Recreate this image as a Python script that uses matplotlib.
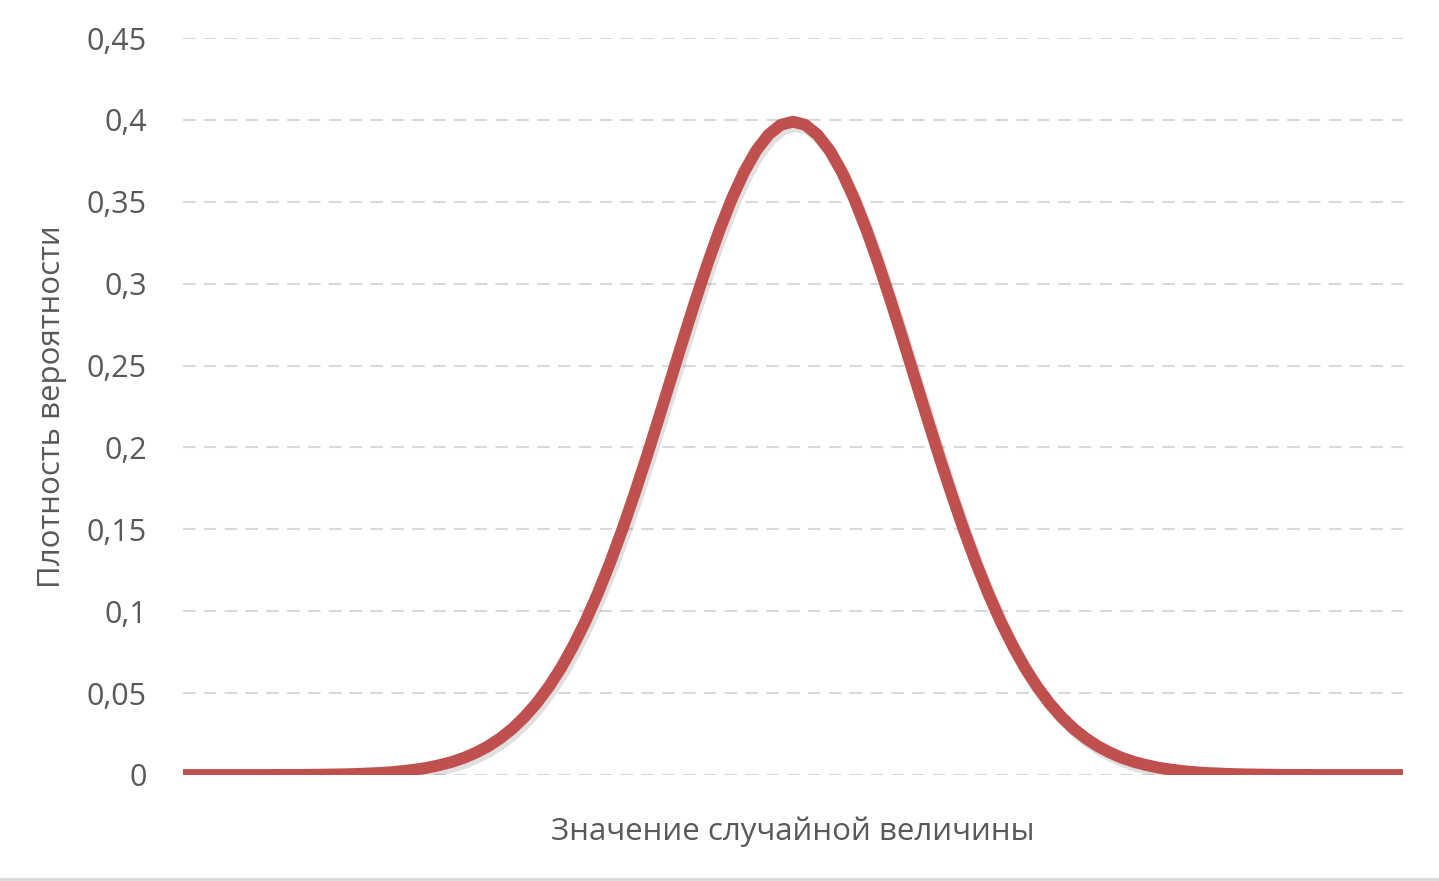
import matplotlib
matplotlib.use("Agg")
import matplotlib.pyplot as plt
import matplotlib.patheffects as pe
from matplotlib.ticker import FuncFormatter

# values (random variable value vs density), step 0.1
x_vals = [round(-5 + 0.1 * i, 1) for i in range(101)]
right_half = [0.3989, 0.3970, 0.3910, 0.3814, 0.3683, 0.3521, 0.3332, 0.3123, 0.2897, 0.2661,
              0.2420, 0.2179, 0.1942, 0.1714, 0.1497, 0.1295, 0.1109, 0.0940, 0.0790, 0.0656,
              0.0540, 0.0440, 0.0355, 0.0283, 0.0224, 0.0175, 0.0136, 0.0104, 0.0079, 0.0060,
              0.0044, 0.0033, 0.0024, 0.0017, 0.0012, 0.0009, 0.0006, 0.0004, 0.0003, 0.0002,
              0.0001, 0.0001, 0.0001, 0.0000, 0.0000, 0.0000, 0.0000, 0.0000, 0.0000, 0.0000,
              0.0000]
density = right_half[:0:-1] + right_half
y_ticks = [0, 0.05, 0.1, 0.15, 0.2, 0.25, 0.3, 0.35, 0.4, 0.45]

plt.rcParams['font.family'] = ['Open Sans', 'DejaVu Sans']
txt = '#595959'

fig = plt.figure(figsize=(14.39, 8.81), dpi=100)
ax = fig.add_axes([183/1439, 106/881, 1220/1439, 737/881])

ax.plot(x_vals, density, color='#C0504D', lw=8.5, solid_capstyle='round',
        solid_joinstyle='round', zorder=3,
        path_effects=[pe.SimpleLineShadow(offset=(2, -3), shadow_color='#000000', alpha=0.12),
                      pe.Normal()])

ax.set_xlim(-5, 5)
ax.set_ylim(0, 0.45)
ax.set_yticks(y_ticks)
ax.yaxis.set_major_formatter(FuncFormatter(lambda v, p: ('%g' % round(v, 2)).replace('.', ',')))
ax.set_xticks([])
ax.tick_params(axis='y', length=0, pad=26, labelsize=22, labelcolor=txt)
for s in ax.spines.values():
    s.set_visible(False)
ax.grid(axis='y', color='#D9D9D9', lw=1.5, linestyle=(0, (6, 4)))
ax.set_axisbelow(True)

ax.set_ylabel('Плотность вероятности', fontsize=22.5, color=txt, labelpad=14)
ax.set_xlabel('Значение случайной величины', fontsize=22.5, color=txt, labelpad=30)

fig.add_artist(plt.Line2D([0, 1], [2/881, 2/881], color='#D9D9D9', lw=2))

fig.savefig('out.png', dpi=100)
